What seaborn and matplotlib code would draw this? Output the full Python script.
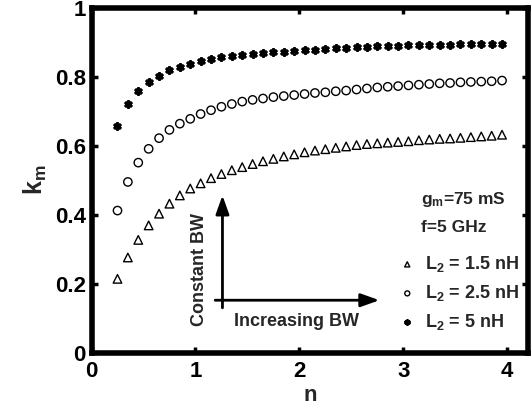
import numpy as np
import pandas as pd
import matplotlib
matplotlib.use("Agg")
import matplotlib.pyplot as plt
import seaborn as sns

sns.set_theme(style="white")
plt.rcParams['font.family'] = ['Liberation Sans', 'DejaVu Sans']
plt.rcParams['mathtext.fontset'] = 'custom'
plt.rcParams['mathtext.rm'] = 'Liberation Sans:bold'
plt.rcParams['mathtext.bf'] = 'Liberation Sans:bold'
plt.rcParams['mathtext.it'] = 'Liberation Sans:bold'
plt.rcParams['mathtext.default'] = 'bf'

n_vals = [0.25, 0.35, 0.45, 0.55, 0.65, 0.75, 0.85, 0.95, 1.05, 1.15,
          1.25, 1.35, 1.45, 1.55, 1.65, 1.75, 1.85, 1.95, 2.05, 2.15,
          2.25, 2.35, 2.45, 2.55, 2.65, 2.75, 2.85, 2.95, 3.05, 3.15,
          3.25, 3.35, 3.45, 3.55, 3.65, 3.75, 3.85, 3.95]

km_L15 = [0.214, 0.276, 0.327, 0.369, 0.403, 0.432, 0.456, 0.476, 0.491, 0.506,
          0.518, 0.529, 0.538, 0.547, 0.555, 0.562, 0.569, 0.575, 0.581, 0.586,
          0.590, 0.594, 0.598, 0.602, 0.605, 0.607, 0.609, 0.611, 0.613, 0.616,
          0.618, 0.620, 0.621, 0.623, 0.625, 0.627, 0.629, 0.632]

km_L25 = [0.412, 0.495, 0.551, 0.591, 0.622, 0.646, 0.664, 0.678, 0.692, 0.703,
          0.713, 0.721, 0.728, 0.733, 0.737, 0.741, 0.744, 0.747, 0.750, 0.753,
          0.755, 0.758, 0.760, 0.763, 0.766, 0.769, 0.771, 0.773, 0.775, 0.777,
          0.779, 0.781, 0.782, 0.784, 0.785, 0.786, 0.787, 0.789]

km_L5 = [0.657, 0.720, 0.759, 0.785, 0.803, 0.819, 0.828, 0.838, 0.846, 0.852,
         0.857, 0.860, 0.863, 0.866, 0.869, 0.871, 0.873, 0.875, 0.877, 0.879,
         0.880, 0.882, 0.884, 0.886, 0.887, 0.888, 0.889, 0.890, 0.891, 0.891,
         0.892, 0.893, 0.893, 0.894, 0.894, 0.895, 0.895, 0.896]

series_labels = ["L$_2$ = 1.5 nH", "L$_2$ = 2.5 nH", "L$_2$ = 5 nH"]
x_ticks = [0, 1, 2, 3, 4]
x_tick_labels = ["0", "1", "2", "3", "4"]
y_ticks = [0, 0.2, 0.4, 0.6, 0.8, 1.0]
y_tick_labels = ["0", "0.2", "0.4", "0.6", "0.8", "1"]

df = pd.concat([
    pd.DataFrame({"n": n_vals, "km": km_L15, "series": series_labels[0]}),
    pd.DataFrame({"n": n_vals, "km": km_L25, "series": series_labels[1]}),
    pd.DataFrame({"n": n_vals, "km": km_L5, "series": series_labels[2]}),
])

fig = plt.figure(figsize=(5.32, 4.11), dpi=100)
ax = fig.add_axes([0.172, 0.142, 0.8205, 0.839])

asterisk = (6, 2, 0)
styles = [
    dict(marker="^", s=38, facecolors="none", edgecolors="black", linewidths=1.0),
    dict(marker="o", s=36, facecolors="none", edgecolors="black", linewidths=1.0),
    dict(marker=asterisk, s=16, color="black", linewidths=2.3),
]
for lab, st in zip(series_labels, styles):
    sub = df[df["series"] == lab]
    sns.scatterplot(data=sub, x="n", y="km", ax=ax, label=lab, legend=False, **st)

ax.set_xlim(0, 4.2)
ax.set_ylim(0, 1)
ax.set_xticks(x_ticks)
ax.set_xticklabels(x_tick_labels)
ax.set_yticks(y_ticks)
ax.set_yticklabels(y_tick_labels)
for lbl in ax.get_xticklabels() + ax.get_yticklabels():
    lbl.set_fontweight("bold")
    lbl.set_fontsize(16)
ax.tick_params(direction="in", length=4, width=2.5, top=True, right=True,
               bottom=True, left=True, colors="black")
ax.tick_params(axis="x", pad=6)
ax.tick_params(axis="y", pad=4)
for sp in ax.spines.values():
    sp.set_linewidth(4)
    sp.set_color("black")

ax.set_xlabel("n", fontsize=16, fontweight="bold", labelpad=2)
ax.set_ylabel("k$_m$", fontsize=18, fontweight="bold", labelpad=4)

# arrows
ax.annotate("", xy=(1.26, 0.456), xytext=(1.26, 0.13),
            arrowprops=dict(arrowstyle="-|>,head_length=0.7,head_width=0.25",
                            color="black", lw=2.0,
                            mutation_scale=16, shrinkA=0, shrinkB=0))
ax.annotate("", xy=(2.77, 0.152), xytext=(1.19, 0.152),
            arrowprops=dict(arrowstyle="-|>,head_length=0.7,head_width=0.25",
                            color="black", lw=2.0,
                            mutation_scale=16, shrinkA=0, shrinkB=0))
ax.text(1.04, 0.242, "Constant BW", rotation=90, ha="center", va="center",
        fontsize=13, fontweight="bold")
ax.text(1.97, 0.089, "Increasing BW", ha="center", va="center",
        fontsize=13, fontweight="bold")

ax.text(3.17, 0.445, "g$_m$=75 mS", ha="left", va="center",
        fontsize=12.5, fontweight="bold")
ax.text(3.17, 0.362, "f=5 GHz", ha="left", va="center",
        fontsize=12.5, fontweight="bold")

leg = ax.legend(loc="lower right", bbox_to_anchor=(1.005, 0.028), frameon=False,
                prop={"weight": "bold", "size": 13}, handletextpad=0.5,
                markerscale=0.6, labelspacing=0.5, borderaxespad=0.2,
                handlelength=1.0)

fig.savefig("out.png", dpi=100)
